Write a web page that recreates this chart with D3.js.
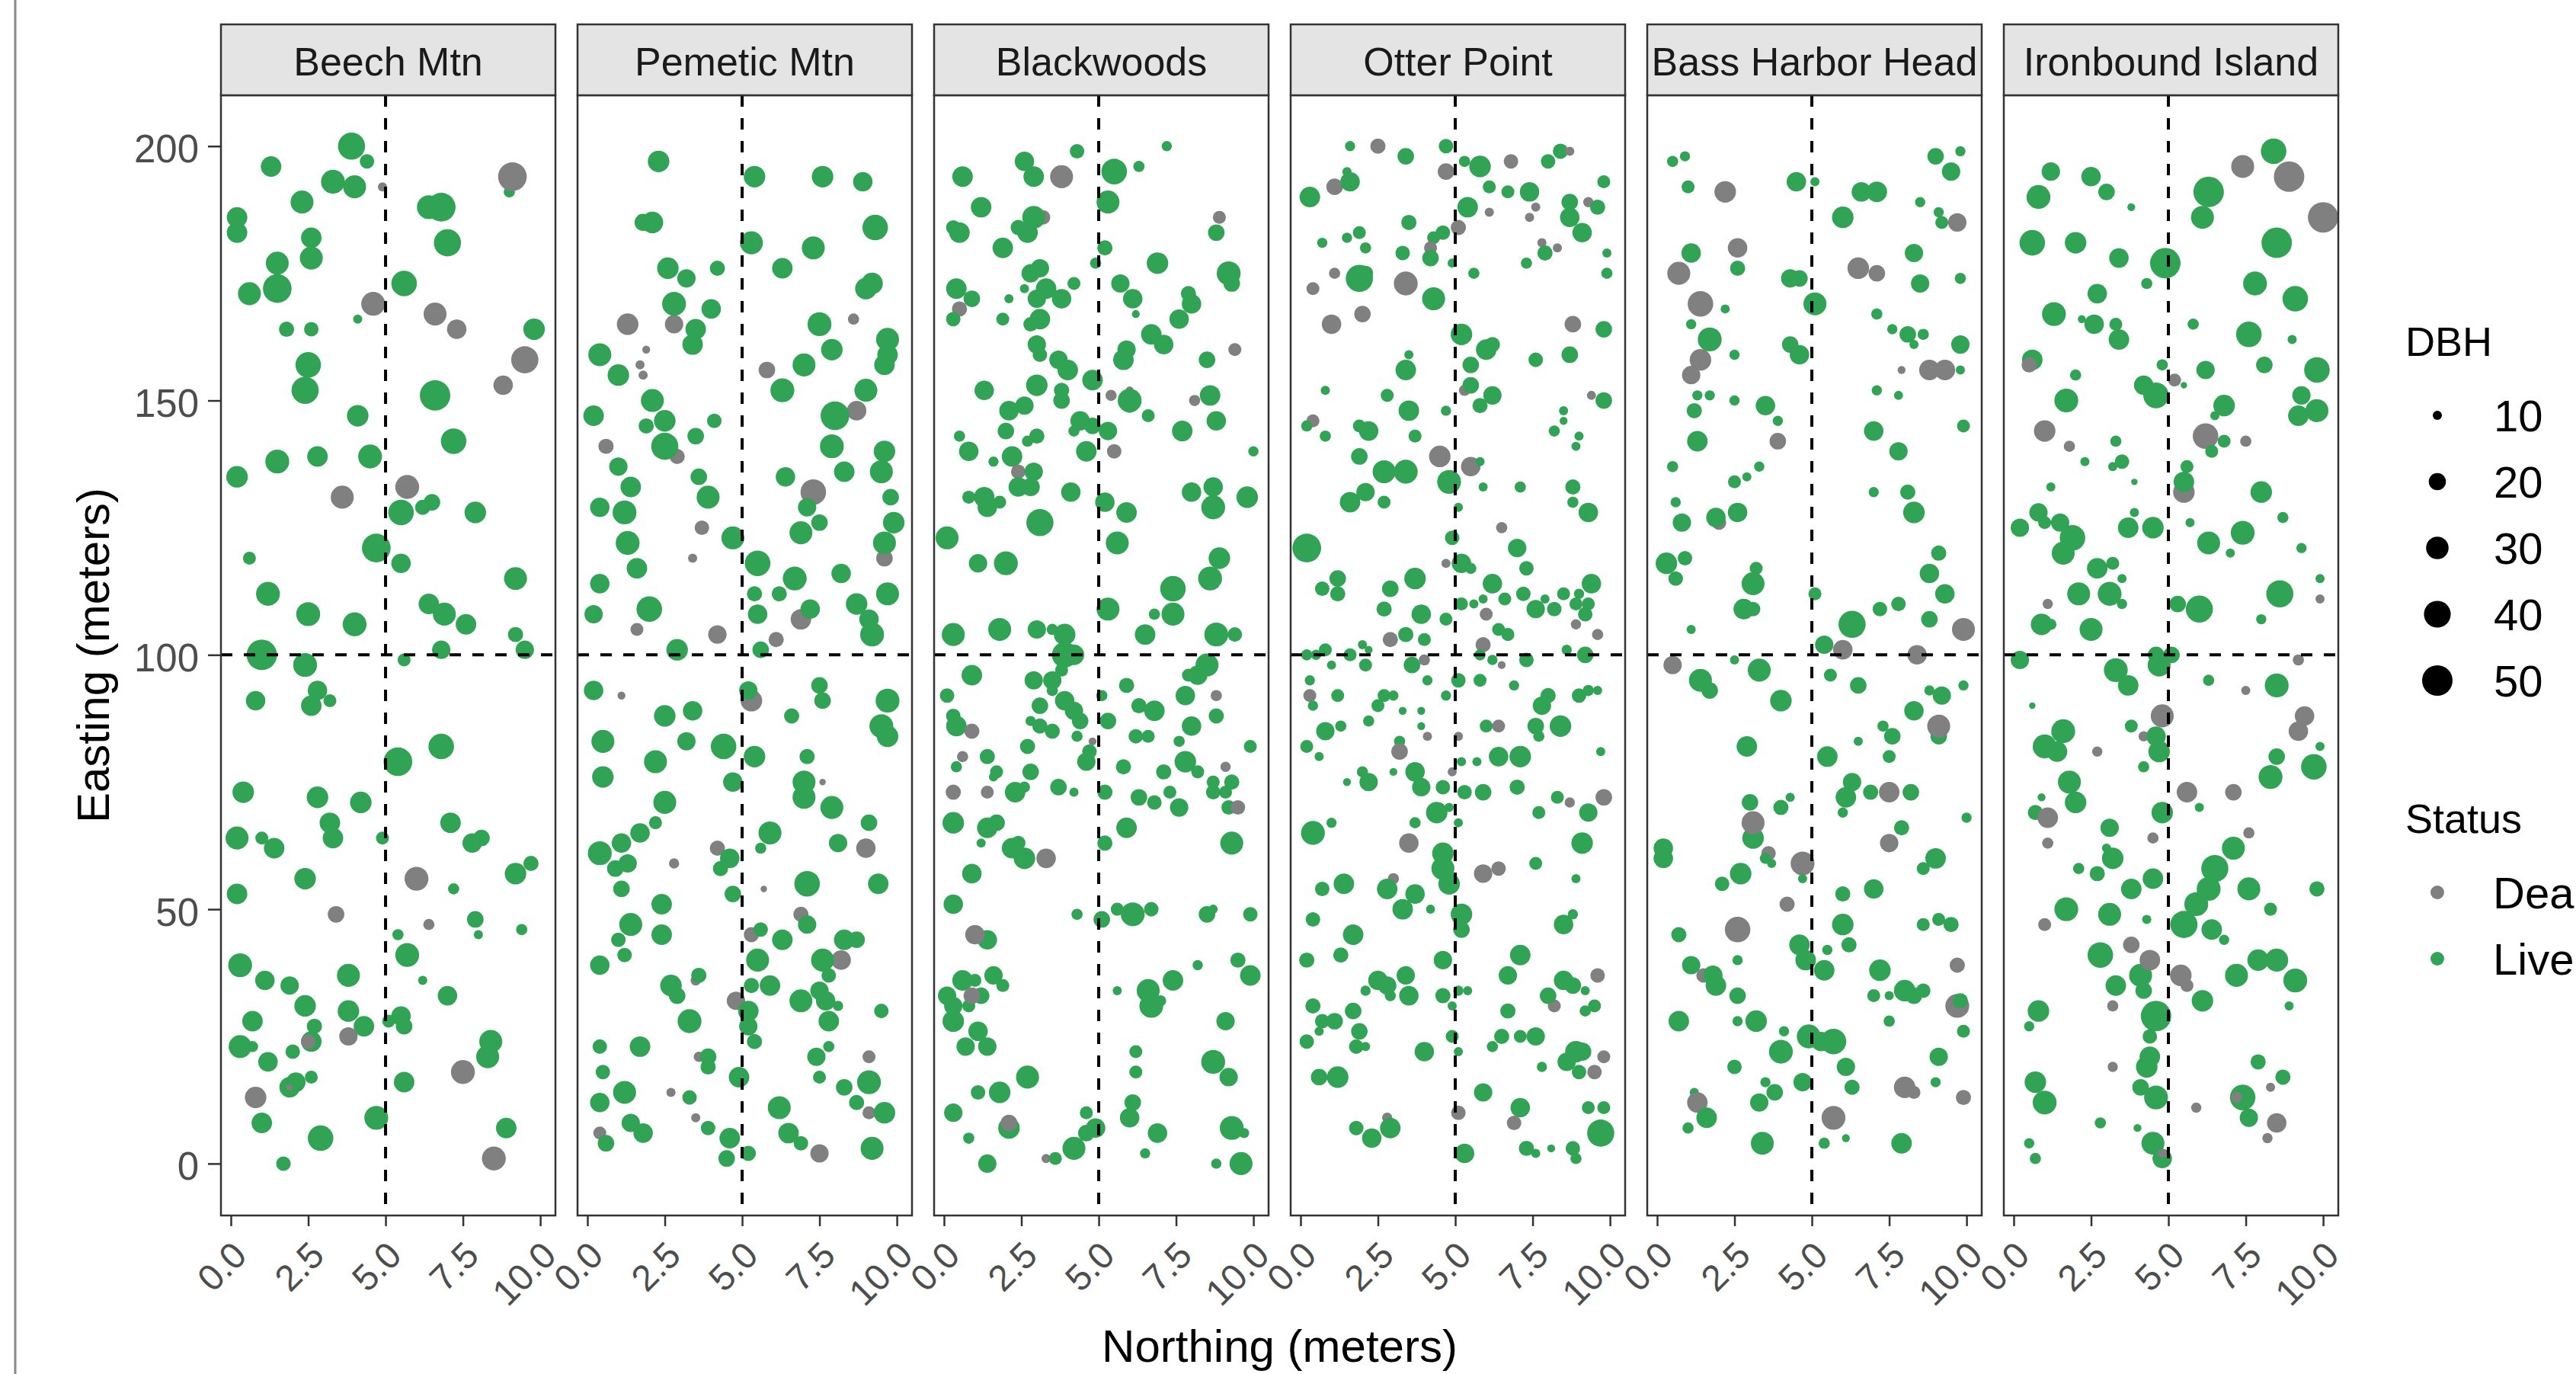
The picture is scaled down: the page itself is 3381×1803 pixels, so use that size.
<!DOCTYPE html>
<html><head><meta charset="utf-8">
<script src="https://cdn.jsdelivr.net/npm/d3@7"></script>
<style>html,body{margin:0;padding:0;background:#fff;} svg{display:block;}</style>
</head><body>
<svg id="chart" width="3381" height="1803"></svg>
<script>
// ---------------- DATA ----------------
const sites = ["Beech Mtn","Pemetic Mtn","Blackwoods","Otter Point","Bass Harbor Head","Ironbound Island"];
const xTicks = [0, 2.5, 5, 7.5, 10];
const xTickLabels = ["0.0","2.5","5.0","7.5","10.0"];
const yTicks = [0, 50, 100, 150, 200];
const dbhBreaks = [10, 20, 30, 40, 50];
const statusCodes = ["D","L"];
const statusLabels = ["Dead","Live"];
const refNorthing = 5, refEasting = 100;
// [northing, easting, DBH, status]
const beechMtn = [[3.9,200,41,"L"],[4.4,197,16,"L"],[1.3,196,26,"L"],[3.3,193,33,"L"],[4.0,192,31,"L"],[4.9,192,10,"D"],[9.0,191,12,"L"],[9.1,194,45,"D"],[2.3,189,31,"L"],[6.4,188,33,"L"],[6.8,188,45,"L"],[0.2,186,26,"L"],[0.2,183,26,"L"],[2.6,182,26,"L"],[2.6,178,31,"L"],[7.0,181,41,"L"],[1.5,177,31,"L"],[0.6,171,31,"L"],[1.5,172,45,"L"],[5.6,173,37,"L"],[4.6,169,33,"D"],[4.1,166,10,"L"],[1.8,164,17,"L"],[2.6,164,16,"L"],[6.6,167,31,"D"],[7.3,164,24,"D"],[9.8,164,28,"L"],[9.5,158,41,"D"],[2.5,157,37,"L"],[2.4,152,41,"L"],[6.6,151,50,"L"],[8.8,153,24,"D"],[4.1,147,28,"L"],[7.2,142,37,"L"],[1.5,138,33,"L"],[2.8,139,26,"L"],[4.5,139,33,"L"],[0.2,135,28,"L"],[3.6,131,31,"D"],[5.7,133,33,"D"],[5.5,128,37,"L"],[6.2,129,17,"L"],[6.5,130,19,"L"],[7.9,128,28,"L"],[4.7,121,45,"L"],[0.6,119,14,"L"],[5.5,118,24,"L"],[9.2,115,31,"L"],[1.2,112,33,"L"],[6.4,110,26,"L"],[6.9,108,31,"L"],[7.6,106,26,"L"],[2.5,108,33,"L"],[4.0,106,33,"L"],[9.2,104,17,"L"],[9.5,101,22,"L"],[1.0,100,50,"L"],[2.4,98,33,"L"],[6.8,101,22,"L"],[5.6,99,14,"L"],[2.8,93,24,"L"],[3.2,91,14,"L"],[2.6,90,26,"L"],[0.8,91,24,"L"],[6.8,82,37,"L"],[5.4,79,45,"L"],[0.4,73,28,"L"],[2.8,72,28,"L"],[4.2,71,28,"L"],[3.2,67,26,"L"],[3.3,64,26,"L"],[0.2,64,31,"L"],[1.0,64,14,"L"],[1.4,62,26,"L"],[4.9,64,14,"L"],[7.1,67,26,"L"],[7.8,63,24,"L"],[8.1,64,19,"L"],[9.2,57,28,"L"],[9.7,59,17,"L"],[2.4,56,28,"L"],[6.0,56,33,"D"],[0.2,53,26,"L"],[7.2,54,12,"L"],[3.4,49,19,"D"],[6.4,47,12,"D"],[7.9,48,19,"L"],[8.0,45,10,"L"],[5.4,45,12,"L"],[9.4,46,12,"L"],[5.7,41,33,"L"],[0.3,39,33,"L"],[1.1,36,24,"L"],[1.9,35,22,"L"],[3.8,37,31,"L"],[6.2,36,10,"L"],[7.0,33,24,"L"],[2.4,31,28,"L"],[0.7,28,26,"L"],[2.7,27,17,"L"],[3.8,30,28,"L"],[4.3,27,26,"L"],[5.5,29,24,"L"],[5.6,27,19,"L"],[5.1,28,14,"L"],[8.4,24,31,"L"],[8.3,21,31,"L"],[2.6,24,26,"L"],[2.5,24,16,"D"],[3.8,25,22,"D"],[0.3,23,31,"L"],[0.7,23,12,"L"],[2.0,22,16,"L"],[1.2,20,24,"L"],[7.5,18,33,"D"],[5.6,16,26,"L"],[2.1,16,24,"L"],[1.9,15,26,"L"],[2.6,17,14,"L"],[1.9,15,8,"D"],[0.8,13,28,"D"],[1.0,8,26,"L"],[4.7,9,33,"L"],[2.9,5,37,"L"],[8.9,7,26,"L"],[8.5,1,33,"D"],[1.7,0,16,"L"]];
const pemeticMtn = [[2.3,197,28,"L"],[5.4,194,28,"L"],[7.6,194,28,"L"],[8.9,193,24,"L"],[1.8,185,20,"L"],[2.1,185,28,"L"],[9.3,184,37,"L"],[5.3,181,31,"L"],[7.3,180,31,"L"],[2.6,176,28,"L"],[3.2,174,22,"L"],[4.2,176,17,"L"],[6.3,176,26,"L"],[9.2,173,28,"L"],[9.0,172,28,"L"],[2.8,165,22,"D"],[2.8,169,33,"L"],[4.0,168,24,"L"],[1.3,165,28,"D"],[3.5,164,26,"L"],[3.4,161,26,"L"],[7.5,165,33,"L"],[8.6,166,12,"D"],[0.4,159,31,"L"],[1.9,160,9,"D"],[1.7,157,10,"D"],[1.8,155,10,"D"],[1.0,155,28,"L"],[5.8,156,19,"D"],[7.0,157,31,"L"],[7.9,160,28,"L"],[9.7,162,31,"L"],[9.7,159,26,"L"],[9.6,157,26,"L"],[6.3,152,33,"L"],[9.0,152,31,"L"],[2.1,150,31,"L"],[0.2,147,26,"L"],[2.5,146,28,"L"],[1.9,145,17,"L"],[4.1,146,16,"L"],[8.7,148,24,"D"],[8.0,147,45,"L"],[0.6,141,17,"D"],[3.5,143,19,"L"],[2.9,139,17,"D"],[2.5,141,41,"L"],[7.9,141,33,"L"],[9.6,140,28,"L"],[9.5,136,31,"L"],[1.0,137,22,"L"],[3.6,135,19,"L"],[6.4,135,24,"L"],[8.3,136,26,"L"],[1.4,133,26,"L"],[3.9,131,31,"L"],[7.3,132,37,"D"],[0.4,129,24,"L"],[1.2,128,33,"L"],[7.1,129,22,"L"],[9.8,131,19,"L"],[9.9,126,28,"L"],[3.7,125,16,"D"],[7.5,126,19,"L"],[6.9,124,31,"L"],[1.3,122,33,"L"],[4.7,123,31,"L"],[9.6,119,19,"D"],[9.6,122,31,"L"],[3.4,119,10,"D"],[5.5,118,37,"L"],[1.6,117,26,"L"],[6.7,115,33,"L"],[8.2,116,24,"L"],[0.4,114,24,"L"],[5.4,112,17,"L"],[6.2,112,17,"L"],[9.7,112,31,"L"],[8.7,110,28,"L"],[2.0,109,37,"L"],[0.2,108,22,"L"],[5.5,108,24,"L"],[6.9,107,26,"D"],[7.2,109,24,"L"],[9.1,107,24,"L"],[9.2,104,33,"L"],[1.6,105,14,"D"],[4.2,104,22,"D"],[6.1,103,17,"D"],[2.9,101,28,"L"],[5.6,101,19,"L"],[0.2,93,24,"L"],[1.1,92,9,"D"],[5.3,91,28,"D"],[5.2,93,22,"L"],[7.5,94,19,"L"],[7.6,91,19,"L"],[9.7,91,33,"L"],[2.5,88,28,"L"],[3.4,89,24,"L"],[6.6,88,17,"L"],[9.5,86,33,"L"],[9.7,84,28,"L"],[0.5,83,31,"L"],[3.2,83,22,"L"],[4.4,82,37,"L"],[2.2,79,31,"L"],[5.4,80,28,"L"],[7.1,80,17,"L"],[0.5,76,28,"L"],[4.7,75,24,"L"],[7.0,75,31,"L"],[7.0,72,31,"L"],[7.6,75,8,"D"],[2.5,71,31,"L"],[2.2,67,14,"L"],[7.9,70,31,"L"],[9.1,67,19,"L"],[5.9,65,31,"L"],[5.6,62,12,"L"],[1.7,65,24,"L"],[1.1,63,24,"L"],[0.4,61,33,"L"],[8.1,63,22,"L"],[4.2,62,17,"D"],[9.0,62,24,"D"],[4.6,60,24,"L"],[4.3,58,17,"L"],[1.3,59,22,"L"],[0.9,58,19,"L"],[2.8,59,11,"D"],[1.1,54,19,"L"],[5.7,54,8,"D"],[7.1,55,37,"L"],[9.4,55,26,"L"],[4.7,53,19,"L"],[2.4,51,26,"L"],[6.9,49,17,"D"],[7.1,47,22,"L"],[1.4,47,31,"L"],[2.4,45,26,"L"],[5.3,45,17,"D"],[5.6,46,16,"L"],[6.3,44,26,"L"],[1.0,44,16,"L"],[1.2,41,16,"L"],[8.2,40,24,"D"],[8.3,44,26,"L"],[8.7,44,19,"L"],[5.5,40,31,"L"],[7.6,40,31,"L"],[7.8,37,16,"L"],[0.4,39,24,"L"],[3.5,36,11,"D"],[3.6,37,17,"L"],[5.9,35,26,"L"],[5.3,35,17,"L"],[2.7,35,28,"L"],[2.9,33,19,"L"],[4.8,32,22,"D"],[5.2,30,26,"L"],[5.2,27,22,"L"],[6.9,32,31,"L"],[7.5,34,22,"L"],[7.7,32,24,"L"],[8.1,31,11,"L"],[9.5,30,16,"L"],[3.3,28,33,"L"],[7.8,28,26,"L"],[5.4,24,17,"L"],[0.4,23,16,"L"],[1.7,23,26,"L"],[7.8,23,12,"L"],[3.6,21,11,"D"],[3.9,21,19,"L"],[3.9,19,17,"L"],[7.4,21,22,"L"],[9.1,21,14,"D"],[0.5,18,16,"L"],[7.5,17,14,"L"],[4.9,17,26,"L"],[9.1,16,33,"L"],[1.2,14,31,"L"],[2.7,14,10,"D"],[8.3,15,19,"L"],[0.4,12,24,"L"],[3.3,13,16,"L"],[6.2,11,31,"L"],[8.7,12,17,"L"],[9.1,10,14,"D"],[9.6,10,28,"L"],[1.4,8,22,"L"],[1.8,6,24,"L"],[3.5,9,10,"D"],[3.9,7,16,"L"],[6.5,6,26,"L"],[6.9,4,16,"L"],[0.4,6,14,"D"],[0.6,4,19,"L"],[4.6,5,26,"L"],[4.5,1,19,"L"],[5.2,2,17,"L"],[7.5,2,22,"D"],[9.2,3,31,"L"]];
const blackwoods = [[2.6,197,24,"L"],[4.3,199,16,"L"],[7.2,200,11,"L"],[0.6,194,26,"L"],[2.9,194,26,"L"],[3.8,194,31,"D"],[5.5,195,37,"L"],[6.3,196,12,"L"],[5.3,189,31,"L"],[1.2,188,26,"L"],[3.2,186,16,"D"],[2.9,186,31,"L"],[2.7,183,26,"L"],[2.4,184,17,"L"],[8.9,186,14,"D"],[8.8,183,19,"L"],[0.3,184,16,"L"],[0.5,183,26,"L"],[1.9,180,26,"L"],[5.2,180,17,"L"],[4.9,177,12,"L"],[6.9,177,28,"L"],[2.8,175,22,"L"],[3.1,176,22,"L"],[9.2,175,33,"L"],[9.3,173,19,"L"],[0.4,172,26,"L"],[0.5,168,17,"D"],[0.9,170,19,"L"],[4.2,173,14,"L"],[2.6,172,10,"L"],[2.1,170,10,"L"],[3.3,172,26,"L"],[3.0,170,22,"L"],[3.8,170,24,"L"],[5.7,173,22,"L"],[6.1,170,24,"L"],[7.9,171,17,"L"],[8.0,169,24,"L"],[1.9,166,14,"L"],[0.3,166,16,"L"],[3.1,166,26,"L"],[2.8,165,16,"L"],[6.2,167,9,"L"],[7.6,166,24,"L"],[6.7,163,26,"L"],[7.1,161,24,"L"],[3.0,161,22,"L"],[3.1,159,16,"L"],[5.9,160,22,"L"],[5.8,158,26,"L"],[9.4,160,14,"D"],[8.5,158,19,"L"],[3.7,158,22,"L"],[4.0,156,26,"L"],[4.8,154,26,"L"],[3.0,153,28,"L"],[1.3,152,24,"L"],[3.8,152,17,"L"],[3.8,150,19,"L"],[5.4,151,12,"D"],[6.0,152,9,"D"],[6.0,149,16,"D"],[6.0,150,33,"L"],[8.1,150,12,"D"],[8.6,151,26,"L"],[8.8,146,24,"L"],[2.1,148,24,"L"],[2.6,149,22,"L"],[6.6,147,14,"L"],[4.4,146,24,"L"],[4.8,145,19,"L"],[4.2,144,12,"L"],[5.3,144,22,"L"],[2.0,144,19,"L"],[3.0,143,17,"L"],[2.7,142,12,"L"],[7.7,144,26,"L"],[0.5,143,12,"L"],[0.8,140,24,"L"],[4.6,140,26,"L"],[5.5,140,16,"D"],[10.0,140,11,"L"],[2.2,139,26,"L"],[1.6,138,11,"L"],[2.4,136,16,"D"],[2.9,136,22,"L"],[2.8,133,22,"L"],[2.4,133,24,"L"],[0.8,131,14,"L"],[1.3,131,26,"L"],[1.4,129,24,"L"],[1.8,130,14,"L"],[4.1,132,24,"L"],[5.2,130,24,"L"],[5.9,128,26,"L"],[8.0,132,24,"L"],[8.7,133,24,"L"],[8.7,129,33,"L"],[9.8,131,28,"L"],[3.1,126,41,"L"],[0.1,123,31,"L"],[5.6,122,31,"L"],[8.9,119,28,"L"],[8.6,115,33,"L"],[1.1,118,22,"L"],[2.0,118,33,"L"],[7.4,113,37,"L"],[7.4,108,31,"L"],[6.8,108,12,"L"],[5.3,109,31,"L"],[1.8,105,31,"L"],[0.3,104,31,"L"],[3.0,105,22,"L"],[3.5,105,12,"L"],[3.9,104,28,"L"],[3.9,100,37,"L"],[4.2,100,26,"L"],[6.5,104,26,"L"],[8.8,104,33,"L"],[9.4,104,16,"L"],[8.5,98,31,"L"],[8.2,96,24,"L"],[7.9,96,14,"L"],[0.9,96,26,"L"],[3.8,97,14,"L"],[2.9,95,22,"L"],[3.5,95,22,"L"],[3.5,93,12,"L"],[5.1,92,12,"L"],[5.9,94,17,"L"],[7.8,92,24,"L"],[8.8,92,12,"D"],[0.1,92,16,"L"],[3.9,91,24,"L"],[4.2,89,22,"L"],[4.4,87,19,"L"],[3.1,90,19,"L"],[6.3,90,17,"L"],[6.8,89,26,"L"],[8.8,88,17,"L"],[0.3,88,16,"L"],[0.4,86,26,"L"],[0.9,85,17,"D"],[2.8,87,11,"L"],[3.1,86,17,"L"],[3.5,85,17,"L"],[5.3,87,19,"L"],[8.0,86,24,"L"],[6.2,84,16,"L"],[6.6,84,14,"L"],[4.3,84,12,"L"],[2.7,82,17,"L"],[4.7,81,16,"L"],[4.6,79,22,"L"],[4.8,83,9,"D"],[7.6,83,12,"L"],[9.9,82,14,"L"],[0.6,80,12,"D"],[1.4,80,17,"L"],[0.4,78,12,"L"],[7.8,79,28,"L"],[8.2,77,14,"L"],[5.8,78,17,"L"],[7.1,77,17,"L"],[9.1,78,11,"D"],[1.7,77,14,"L"],[1.6,76,10,"L"],[2.8,77,19,"L"],[0.3,73,17,"D"],[1.4,73,14,"D"],[2.3,73,26,"L"],[2.6,74,12,"L"],[3.7,74,19,"L"],[4.2,73,10,"L"],[5.2,73,17,"L"],[7.3,73,14,"L"],[8.7,75,14,"L"],[9.3,75,17,"L"],[8.7,73,16,"L"],[9.1,73,14,"L"],[9.2,70,16,"L"],[6.3,72,19,"L"],[6.8,71,16,"L"],[7.6,70,22,"L"],[9.5,70,16,"D"],[0.3,67,28,"L"],[1.4,66,26,"L"],[1.7,67,19,"L"],[1.2,63,10,"L"],[5.9,66,26,"L"],[2.2,62,26,"L"],[2.4,63,16,"L"],[2.6,60,28,"L"],[5.2,63,17,"L"],[9.3,63,31,"L"],[3.3,60,24,"D"],[0.9,57,24,"L"],[0.3,51,24,"L"],[4.3,49,12,"L"],[5.1,48,19,"L"],[5.6,50,14,"L"],[6.1,49,33,"L"],[6.7,50,16,"L"],[8.5,49,19,"L"],[8.7,50,10,"L"],[9.9,49,16,"L"],[1.4,44,24,"L"],[1.0,45,24,"D"],[8.2,39,11,"L"],[9.5,40,17,"L"],[9.9,37,26,"L"],[0.6,36,26,"L"],[1.0,36,14,"L"],[1.6,37,22,"L"],[1.9,35,14,"L"],[0.1,33,22,"L"],[1.2,33,19,"L"],[0.3,31,22,"L"],[0.8,31,14,"L"],[0.9,33,19,"D"],[0.3,28,28,"L"],[5.6,34,10,"L"],[6.6,34,31,"L"],[6.7,31,33,"L"],[7.0,32,12,"L"],[7.4,36,26,"L"],[9.1,28,22,"L"],[1.1,26,24,"L"],[1.4,23,22,"L"],[0.7,23,22,"L"],[6.2,22,14,"L"],[6.2,18,14,"L"],[8.7,20,33,"L"],[9.2,17,22,"L"],[2.7,17,31,"L"],[1.1,14,16,"L"],[1.8,14,28,"L"],[6.1,12,19,"L"],[6.0,9,24,"L"],[0.3,10,22,"L"],[4.6,10,14,"L"],[2.1,7,28,"L"],[2.1,8,19,"D"],[4.9,7,24,"L"],[4.6,6,19,"L"],[4.2,3,31,"L"],[6.9,6,24,"L"],[9.3,7,33,"L"],[9.7,6,11,"L"],[0.8,5,12,"L"],[1.4,0,22,"L"],[3.3,1,10,"D"],[3.6,1,14,"L"],[6.5,2,11,"L"],[8.8,0,11,"L"],[9.6,0,31,"L"]];
const otterPoint = [[1.6,200,11,"L"],[2.5,200,17,"D"],[3.4,198,19,"L"],[4.7,200,16,"L"],[4.7,195,19,"D"],[5.3,197,12,"L"],[5.8,196,28,"L"],[6.8,197,16,"D"],[8.0,197,16,"L"],[8.4,199,17,"L"],[8.7,199,10,"D"],[1.5,195,10,"L"],[1.1,192,19,"D"],[1.6,193,24,"L"],[0.3,190,26,"L"],[6.1,192,14,"L"],[6.7,191,14,"L"],[7.4,191,24,"L"],[9.8,193,14,"L"],[5.4,188,26,"L"],[8.7,189,19,"L"],[8.7,186,24,"L"],[9.3,189,11,"D"],[9.6,188,17,"L"],[6.1,187,10,"D"],[7.6,188,10,"D"],[7.4,186,10,"D"],[3.5,185,17,"L"],[1.9,183,14,"L"],[1.5,182,11,"L"],[0.7,181,11,"L"],[2.1,180,12,"L"],[4.6,183,16,"L"],[5.1,184,17,"D"],[4.3,182,14,"L"],[4.2,180,14,"D"],[4.2,178,19,"L"],[3.3,179,16,"L"],[4.9,177,10,"L"],[9.1,183,24,"L"],[7.8,181,10,"D"],[7.9,179,17,"L"],[8.3,180,10,"D"],[9.9,179,10,"L"],[7.3,177,12,"L"],[1.1,175,12,"D"],[5.6,175,12,"L"],[9.9,175,12,"L"],[1.9,174,41,"L"],[2.1,175,17,"L"],[3.4,173,33,"D"],[0.4,172,14,"D"],[4.3,170,31,"L"],[2.0,167,19,"D"],[1.0,165,24,"D"],[8.8,165,19,"D"],[9.8,164,19,"L"],[5.2,163,28,"L"],[6.0,160,26,"L"],[6.2,161,17,"L"],[7.6,158,16,"L"],[8.7,159,19,"L"],[3.4,156,26,"L"],[3.5,159,10,"L"],[5.5,157,19,"L"],[5.3,152,12,"D"],[5.5,153,19,"L"],[0.8,152,10,"L"],[2.8,151,14,"L"],[5.8,149,17,"L"],[6.2,151,22,"L"],[9.4,151,10,"D"],[9.8,150,19,"L"],[4.7,148,11,"L"],[3.5,148,26,"L"],[3.7,143,14,"L"],[8.5,148,10,"L"],[8.5,146,9,"L"],[0.4,146,14,"D"],[0.2,145,12,"L"],[0.8,143,12,"L"],[1.9,145,14,"L"],[2.2,144,24,"L"],[8.2,144,12,"L"],[9.0,143,10,"L"],[8.9,141,10,"L"],[1.9,139,19,"L"],[4.5,139,28,"D"],[5.5,137,24,"D"],[5.8,138,10,"L"],[2.7,136,31,"L"],[3.4,136,33,"L"],[4.8,134,33,"L"],[2.1,132,22,"L"],[2.7,130,14,"L"],[1.6,130,26,"L"],[5.9,133,10,"L"],[7.1,133,12,"L"],[8.8,133,17,"L"],[8.8,130,12,"L"],[9.3,128,24,"L"],[5.1,129,10,"L"],[0.2,121,45,"L"],[6.5,125,12,"D"],[4.9,123,16,"L"],[7.0,121,22,"L"],[4.7,118,10,"D"],[5.2,118,24,"L"],[5.5,117,12,"L"],[7.3,117,16,"L"],[3.7,115,28,"L"],[1.2,115,19,"L"],[0.7,113,16,"L"],[1.2,112,17,"L"],[2.9,113,19,"L"],[6.2,114,24,"L"],[9.4,114,24,"L"],[9.0,112,11,"L"],[7.2,112,16,"L"],[6.6,111,14,"L"],[5.2,110,14,"L"],[5.6,110,10,"L"],[5.9,111,10,"L"],[7.9,111,10,"L"],[8.5,112,14,"L"],[8.9,110,14,"L"],[9.3,110,14,"L"],[8.2,109,16,"L"],[7.6,109,22,"L"],[9.2,108,16,"L"],[2.7,109,17,"L"],[3.9,108,24,"L"],[4.7,107,14,"L"],[6.0,108,14,"D"],[8.9,106,11,"D"],[6.4,105,14,"L"],[6.7,104,14,"L"],[2.9,103,17,"D"],[3.4,104,17,"L"],[4.0,103,14,"L"],[5.9,102,17,"D"],[9.6,104,12,"D"],[2.0,102,10,"L"],[0.2,100,12,"L"],[0.5,100,11,"L"],[0.8,101,14,"L"],[1.0,98,10,"L"],[1.6,100,14,"L"],[2.1,98,14,"L"],[2.2,101,9,"L"],[3.6,98,19,"L"],[4.0,99,12,"D"],[5.8,100,12,"L"],[6.2,99,11,"L"],[6.5,98,9,"D"],[7.3,99,16,"L"],[8.6,101,11,"L"],[9.2,100,19,"L"],[0.3,95,11,"L"],[0.3,92,14,"D"],[0.4,90,11,"L"],[1.2,92,14,"L"],[4.1,95,11,"L"],[5.1,95,16,"L"],[5.8,95,14,"L"],[6.9,94,11,"L"],[2.7,92,14,"L"],[3.0,92,11,"L"],[4.7,92,11,"L"],[9.0,92,16,"L"],[9.3,93,12,"L"],[9.6,93,10,"L"],[7.8,90,22,"L"],[8.0,92,17,"L"],[2.5,90,14,"L"],[2.2,87,12,"L"],[3.3,89,9,"L"],[3.9,89,9,"L"],[1.3,86,12,"L"],[0.8,85,22,"L"],[3.9,86,9,"L"],[4.1,84,10,"D"],[6.0,86,14,"L"],[6.4,86,14,"D"],[7.6,86,19,"L"],[8.4,86,28,"L"],[7.7,84,12,"L"],[5.1,84,10,"D"],[0.2,82,14,"L"],[0.6,80,10,"L"],[3.2,83,12,"L"],[3.2,81,19,"D"],[6.4,80,24,"L"],[7.1,80,28,"L"],[9.7,81,10,"L"],[5.2,79,10,"L"],[5.7,79,10,"L"],[4.9,77,10,"D"],[3.7,77,24,"L"],[2.0,77,12,"L"],[3.0,77,9,"L"],[1.5,75,9,"L"],[2.2,75,22,"L"],[3.9,74,22,"L"],[4.6,74,16,"L"],[7.0,74,17,"L"],[5.3,73,16,"L"],[5.9,73,19,"L"],[8.3,72,14,"L"],[8.7,71,11,"D"],[9.8,72,19,"D"],[4.4,69,28,"L"],[4.8,70,10,"L"],[7.7,69,14,"L"],[9.3,69,22,"L"],[1.0,67,11,"L"],[3.7,67,12,"L"],[5.1,67,10,"L"],[0.4,65,33,"L"],[9.1,63,28,"L"],[3.5,63,24,"D"],[4.6,61,28,"L"],[4.6,58,31,"L"],[4.8,55,28,"L"],[5.9,57,22,"D"],[6.4,58,16,"D"],[7.6,59,14,"L"],[3.0,56,12,"D"],[2.8,54,26,"L"],[3.3,50,26,"L"],[3.7,53,24,"L"],[1.4,55,26,"L"],[0.7,54,16,"L"],[8.9,56,10,"L"],[4.2,50,10,"L"],[5.2,49,28,"L"],[5.2,46,19,"L"],[0.4,48,16,"L"],[1.7,45,26,"L"],[8.5,47,24,"L"],[8.8,49,11,"L"],[1.3,41,17,"L"],[0.2,40,17,"L"],[4.6,40,22,"L"],[7.1,41,26,"L"],[9.6,37,16,"D"],[6.7,37,22,"L"],[3.4,37,22,"L"],[3.5,33,24,"L"],[2.5,36,24,"L"],[2.8,35,22,"L"],[2.9,33,12,"L"],[8.5,36,24,"L"],[8.8,35,19,"L"],[9.2,34,10,"L"],[2.1,34,11,"L"],[4.6,33,17,"L"],[5.1,34,11,"L"],[5.4,34,10,"L"],[4.9,31,10,"L"],[8.2,31,14,"D"],[8.0,33,19,"L"],[0.4,31,17,"L"],[1.7,30,19,"L"],[6.7,30,17,"L"],[9.5,31,14,"L"],[9.2,30,12,"L"],[0.7,28,16,"L"],[1.1,28,19,"L"],[0.6,26,10,"L"],[1.9,26,19,"L"],[4.9,25,14,"L"],[6.5,25,17,"L"],[7.1,25,14,"L"],[7.6,25,22,"L"],[0.2,24,16,"L"],[1.8,23,16,"L"],[2.1,23,10,"L"],[4.0,22,24,"L"],[5.1,22,10,"L"],[6.2,23,12,"L"],[8.9,22,28,"L"],[9.1,22,22,"L"],[8.6,20,22,"L"],[9.0,18,16,"L"],[9.8,21,14,"D"],[9.5,18,16,"D"],[7.8,19,11,"L"],[0.6,17,19,"L"],[1.2,17,28,"L"],[5.9,14,22,"L"],[9.3,11,14,"L"],[9.8,11,14,"L"],[7.1,11,24,"L"],[2.8,9,11,"D"],[2.9,7,26,"L"],[2.3,5,24,"L"],[5.1,10,16,"D"],[6.9,8,16,"D"],[1.8,7,16,"L"],[9.7,6,41,"L"],[5.3,2,24,"L"],[7.3,3,17,"L"],[7.6,2,10,"L"],[8.1,3,9,"L"],[8.8,3,16,"L"],[8.9,1,12,"L"]];
const bassHarborHead = [[0.5,197,12,"L"],[0.9,198,11,"L"],[1.0,192,14,"L"],[2.2,191,28,"D"],[4.5,193,24,"L"],[5.1,193,10,"L"],[6.6,191,24,"L"],[7.1,191,26,"L"],[9.0,198,19,"L"],[9.8,199,11,"L"],[9.5,195,22,"L"],[8.5,189,11,"L"],[6.0,186,28,"L"],[9.1,187,11,"L"],[9.2,185,14,"L"],[9.7,185,22,"D"],[2.6,180,24,"D"],[2.6,176,17,"L"],[0.7,175,31,"D"],[1.1,179,24,"L"],[8.3,179,22,"L"],[4.3,174,22,"L"],[4.6,174,19,"L"],[6.5,176,28,"D"],[7.1,175,19,"D"],[9.8,174,12,"L"],[8.5,173,22,"L"],[1.4,169,37,"D"],[2.2,168,10,"L"],[5.1,169,31,"L"],[7.1,167,12,"L"],[1.1,165,11,"L"],[1.7,162,33,"L"],[7.6,164,11,"L"],[8.1,163,19,"L"],[8.3,161,10,"L"],[8.6,163,12,"L"],[2.5,159,11,"L"],[4.3,161,19,"L"],[4.6,159,24,"L"],[9.8,161,22,"L"],[1.4,158,28,"D"],[1.1,155,22,"D"],[7.9,156,9,"D"],[8.8,156,26,"D"],[9.3,156,26,"D"],[9.8,156,10,"L"],[1.3,151,11,"L"],[1.7,151,11,"L"],[2.5,150,11,"L"],[7.1,152,11,"L"],[7.8,151,10,"L"],[3.5,149,24,"L"],[1.2,148,17,"L"],[3.9,146,11,"L"],[9.9,145,14,"L"],[7.0,144,24,"L"],[3.9,142,19,"D"],[1.3,142,26,"L"],[7.8,140,22,"L"],[0.5,137,12,"L"],[3.3,137,11,"L"],[2.5,134,14,"L"],[2.9,135,10,"L"],[7.0,132,11,"L"],[8.1,132,17,"L"],[8.3,128,28,"L"],[0.6,130,11,"L"],[0.8,126,22,"L"],[2.0,126,16,"D"],[1.9,127,24,"L"],[2.6,128,24,"L"],[0.3,118,28,"L"],[0.9,119,16,"L"],[0.6,115,16,"L"],[3.2,117,14,"L"],[3.1,114,31,"L"],[2.8,109,26,"L"],[3.1,109,16,"L"],[9.1,120,17,"L"],[8.8,116,24,"L"],[9.3,112,24,"L"],[5.1,112,14,"L"],[7.2,109,16,"L"],[7.8,110,16,"L"],[6.3,106,41,"L"],[8.8,107,19,"L"],[9.9,105,31,"D"],[1.1,105,10,"L"],[5.4,102,22,"L"],[6.0,101,24,"D"],[8.4,100,24,"D"],[2.5,99,10,"L"],[0.5,98,22,"D"],[1.4,95,31,"L"],[1.7,93,19,"L"],[3.3,97,31,"L"],[5.6,96,14,"L"],[6.5,94,19,"L"],[9.9,94,11,"L"],[8.8,93,11,"L"],[9.2,92,22,"L"],[4.0,91,28,"L"],[8.3,89,24,"L"],[7.3,86,12,"L"],[7.6,84,19,"L"],[7.5,80,14,"L"],[9.1,84,19,"L"],[9.1,86,31,"D"],[6.5,83,10,"L"],[2.9,82,26,"L"],[5.5,80,26,"L"],[6.3,75,22,"L"],[6.9,73,17,"L"],[7.5,73,26,"D"],[8.2,73,19,"L"],[3.0,71,19,"L"],[4.3,72,10,"L"],[4.0,70,17,"L"],[6.1,72,26,"L"],[6.0,69,11,"L"],[10.0,68,11,"L"],[3.1,64,28,"L"],[3.1,67,31,"D"],[7.9,66,17,"L"],[0.2,62,24,"L"],[0.2,60,24,"L"],[3.6,61,16,"D"],[3.5,60,12,"L"],[3.7,59,10,"L"],[4.7,59,33,"D"],[7.5,63,22,"D"],[9.0,60,26,"L"],[8.6,58,14,"L"],[2.7,57,28,"L"],[2.1,55,16,"L"],[4.7,56,10,"L"],[6.0,53,17,"L"],[7.0,54,24,"L"],[4.2,51,17,"D"],[2.6,46,37,"D"],[6.0,47,28,"L"],[0.7,45,17,"L"],[8.6,47,14,"L"],[9.1,48,14,"L"],[9.5,47,17,"L"],[4.6,43,26,"L"],[4.8,40,26,"L"],[5.5,42,11,"L"],[6.2,43,17,"L"],[2.6,40,11,"L"],[1.1,39,22,"L"],[9.7,39,17,"D"],[1.5,37,16,"D"],[1.8,37,24,"L"],[1.9,35,26,"L"],[5.4,38,26,"L"],[7.2,38,28,"L"],[2.6,33,19,"L"],[7.0,33,14,"L"],[7.5,33,10,"L"],[8.0,34,28,"L"],[8.3,33,19,"L"],[8.6,34,16,"L"],[9.7,31,33,"D"],[9.8,32,17,"L"],[0.7,28,26,"L"],[2.6,28,11,"L"],[3.2,28,28,"L"],[7.5,28,12,"L"],[4.1,26,11,"L"],[9.9,26,14,"L"],[4.9,25,33,"L"],[5.3,24,24,"L"],[5.7,24,37,"L"],[4.0,22,33,"L"],[9.1,21,22,"L"],[2.5,19,16,"L"],[6.1,19,22,"L"],[4.7,16,22,"L"],[9.0,16,11,"L"],[3.5,16,11,"L"],[3.8,14,19,"L"],[6.3,15,17,"L"],[8.0,15,28,"D"],[8.3,14,14,"D"],[1.2,14,10,"L"],[1.3,12,26,"D"],[3.3,12,22,"L"],[9.9,13,17,"D"],[1.6,9,26,"L"],[5.7,9,33,"D"],[1.0,7,12,"L"],[5.4,4,12,"L"],[6.1,5,9,"L"],[3.4,4,31,"L"],[7.9,4,26,"L"]];
const ironboundIsland = [[1.2,195,22,"L"],[2.5,194,24,"L"],[3.0,191,19,"L"],[0.8,190,33,"L"],[3.8,188,9,"L"],[7.4,196,31,"D"],[8.4,199,37,"L"],[8.9,194,50,"D"],[6.3,191,50,"L"],[6.1,186,31,"L"],[10.0,186,50,"D"],[0.6,181,37,"L"],[2.0,181,28,"L"],[8.5,181,50,"L"],[3.4,178,24,"L"],[4.9,177,50,"L"],[4.3,173,12,"L"],[7.8,173,33,"L"],[9.1,170,37,"L"],[2.7,171,24,"L"],[1.3,167,33,"L"],[2.2,166,9,"L"],[2.6,165,24,"L"],[3.3,165,14,"L"],[3.4,162,26,"L"],[5.8,165,12,"L"],[7.6,163,37,"L"],[9.0,162,10,"L"],[0.6,158,26,"L"],[0.5,157,17,"D"],[2.0,155,12,"L"],[4.8,157,12,"L"],[6.2,156,22,"L"],[8.1,157,19,"L"],[9.8,156,37,"L"],[5.2,154,14,"D"],[5.5,153,8,"L"],[4.2,153,24,"L"],[4.6,151,37,"L"],[9.3,151,22,"L"],[9.8,148,31,"L"],[9.2,147,26,"L"],[1.7,150,33,"L"],[6.8,149,28,"L"],[6.5,147,10,"L"],[1.0,144,28,"D"],[6.2,143,37,"D"],[6.4,140,14,"L"],[6.8,142,14,"L"],[7.5,142,12,"D"],[1.8,141,12,"D"],[3.3,142,12,"L"],[2.3,138,10,"L"],[3.5,138,16,"L"],[3.2,137,10,"L"],[5.6,137,14,"L"],[3.9,134,8,"L"],[1.2,133,10,"L"],[5.5,132,28,"D"],[5.5,134,26,"L"],[8.0,132,28,"L"],[0.8,128,22,"L"],[1.0,126,14,"L"],[0.2,125,22,"L"],[1.5,126,22,"L"],[3.9,128,10,"L"],[3.7,125,26,"L"],[4.5,125,28,"L"],[5.7,126,10,"L"],[8.7,127,12,"L"],[1.9,123,37,"L"],[1.6,120,31,"L"],[7.4,124,33,"L"],[7.0,120,10,"L"],[6.3,122,31,"L"],[9.3,121,11,"L"],[2.7,117,26,"L"],[3.2,118,14,"L"],[3.5,115,10,"L"],[9.9,115,10,"L"],[2.1,112,31,"L"],[3.1,112,33,"L"],[8.6,112,41,"L"],[9.9,111,10,"D"],[1.1,110,11,"D"],[3.5,110,11,"L"],[5.3,110,19,"L"],[6.0,109,41,"L"],[8.0,107,11,"L"],[0.9,106,28,"L"],[1.2,106,12,"L"],[2.5,105,31,"L"],[0.2,99,22,"L"],[4.6,100,19,"L"],[5.1,100,19,"L"],[4.7,98,31,"L"],[3.3,97,33,"L"],[3.7,94,26,"L"],[9.2,99,12,"D"],[6.3,95,12,"L"],[7.5,93,10,"D"],[8.5,94,33,"L"],[0.6,90,8,"L"],[4.8,88,31,"D"],[9.4,88,24,"D"],[9.2,85,24,"D"],[3.8,86,14,"L"],[1.6,85,33,"L"],[1.0,82,33,"L"],[1.4,81,26,"L"],[4.2,84,11,"D"],[4.6,84,24,"L"],[4.7,81,28,"L"],[2.7,81,11,"D"],[9.9,82,10,"L"],[8.5,80,19,"L"],[8.3,76,33,"L"],[9.7,78,37,"L"],[4.2,78,12,"L"],[1.8,75,31,"L"],[2.0,71,28,"L"],[0.9,72,9,"L"],[5.6,73,26,"D"],[7.1,73,19,"D"],[6.0,70,10,"L"],[0.7,69,17,"L"],[1.1,68,26,"D"],[4.8,69,28,"L"],[3.1,66,22,"L"],[7.6,65,12,"D"],[4.5,64,12,"D"],[7.1,62,31,"L"],[1.1,63,12,"D"],[3.0,62,10,"L"],[3.2,60,28,"L"],[6.5,58,41,"L"],[6.3,54,33,"L"],[2.1,58,12,"L"],[2.7,57,17,"L"],[4.5,56,26,"L"],[3.8,54,26,"L"],[7.6,54,31,"L"],[9.8,54,17,"L"],[5.9,51,33,"L"],[5.5,47,41,"L"],[1.7,50,33,"L"],[3.1,49,31,"L"],[8.3,50,14,"L"],[4.3,48,10,"L"],[6.4,46,26,"L"],[6.8,44,11,"L"],[1.0,47,14,"D"],[3.8,43,19,"D"],[2.8,41,37,"L"],[4.1,37,31,"L"],[4.2,34,19,"L"],[4.4,40,26,"D"],[7.9,40,28,"L"],[8.5,40,31,"L"],[5.4,37,28,"D"],[5.6,35,14,"D"],[7.2,37,31,"L"],[9.1,36,33,"L"],[3.3,35,26,"L"],[6.1,32,28,"L"],[8.9,31,10,"L"],[0.8,30,28,"L"],[3.2,31,12,"D"],[4.6,29,50,"L"],[0.5,27,11,"L"],[4.4,25,16,"L"],[4.4,21,26,"L"],[4.3,19,28,"L"],[7.9,20,17,"L"],[3.2,19,11,"D"],[8.7,17,17,"L"],[8.3,15,10,"D"],[0.7,16,28,"L"],[1.0,12,33,"L"],[4.1,15,19,"L"],[4.6,13,33,"L"],[7.4,13,37,"L"],[7.2,13,12,"D"],[7.6,9,22,"L"],[5.9,11,11,"D"],[8.5,8,24,"D"],[2.8,8,12,"L"],[4.0,7,9,"L"],[8.2,5,11,"D"],[0.5,4,11,"L"],[4.5,4,31,"L"],[4.8,1,24,"L"],[4.8,2,10,"D"],[0.7,1,12,"L"]];
const siteData = [beechMtn, pemeticMtn, blackwoods, otterPoint, bassHarborHead, ironboundIsland];

// ---------------- LAYOUT ----------------
const W = 3381, H = 1803;
const FONT = '"Liberation Sans", Arial, Helvetica, sans-serif';
const panelX0 = 290, panelStep = 468, panelW = 439, panelTop = 125, panelH = 1470, stripTop = 32;
const svg = d3.select("#chart");
svg.append("rect").attr("width", W).attr("height", H).attr("fill", "#fff");
svg.append("line").attr("x1", 20).attr("x2", 20).attr("y1", 0).attr("y2", H)
  .attr("stroke", "#8a8a8a").attr("stroke-width", 3);

const x = d3.scaleLinear().domain([-0.32, 10.49]).range([0, panelW]);
const y = d3.scaleLinear().domain([-10.2, 210]).range([panelH, 0]);
const r = d3.scaleRadial().domain([10, 50]).range([6, 20]);
const color = d3.scaleOrdinal().domain(statusCodes).range(["#808080", "#31a354"]);

sites.forEach((name, i) => {
  const px = panelX0 + i * panelStep;
  const g = svg.append("g").attr("transform", `translate(${px},${panelTop})`);
  const clipId = "clip" + i;
  g.append("clipPath").attr("id", clipId).append("rect").attr("width", panelW).attr("height", panelH);
  const inner = g.append("g").attr("clip-path", `url(#${clipId})`);
  inner.selectAll("circle").data(siteData[i]).join("circle")
    .attr("cx", d => x(d[0])).attr("cy", d => y(d[1]))
    .attr("r", d => r(d[2])).attr("fill", d => color(d[3]));
  inner.append("line").attr("x1", x(refNorthing)).attr("x2", x(refNorthing)).attr("y1", 0).attr("y2", panelH)
    .attr("stroke", "#000").attr("stroke-width", 4).attr("stroke-dasharray", "15,15");
  inner.append("line").attr("x1", 0).attr("x2", panelW).attr("y1", y(refEasting)).attr("y2", y(refEasting))
    .attr("stroke", "#000").attr("stroke-width", 4).attr("stroke-dasharray", "15,15");
  g.append("rect").attr("width", panelW).attr("height", panelH)
    .attr("fill", "none").attr("stroke", "#333").attr("stroke-width", 2.5);

  // strip
  svg.append("rect").attr("x", px).attr("y", stripTop).attr("width", panelW).attr("height", panelTop - stripTop)
    .attr("fill", "#e4e4e4").attr("stroke", "#333").attr("stroke-width", 2.5);
  svg.append("text").attr("x", px + panelW / 2).attr("y", 99).attr("text-anchor", "middle")
    .style("font-family", FONT).style("font-size", "52px").attr("fill", "#1a1a1a").text(name);

  // x axis
  const xa = g.append("g").attr("transform", `translate(0,${panelH})`)
    .call(d3.axisBottom(x).tickValues(xTicks).tickFormat((d, k) => xTickLabels[k]).tickSize(14).tickSizeOuter(0));
  xa.select(".domain").remove();
  xa.selectAll(".tick line").attr("stroke", "#333").attr("stroke-width", 2.5);
  xa.selectAll(".tick text").attr("x", 23).attr("y", 55).attr("dy", null)
    .attr("text-anchor", "end").attr("transform", "rotate(-45,23,55)")
    .style("font-family", FONT).style("font-size", "48px").attr("fill", "#4d4d4d");

  if (i === 0) {
    const ya = g.append("g").call(d3.axisLeft(y).tickValues(yTicks).tickSize(17).tickPadding(12).tickSizeOuter(0));
    ya.select(".domain").remove();
    ya.selectAll(".tick line").attr("stroke", "#333").attr("stroke-width", 2.5);
    ya.selectAll(".tick text").attr("dy", "0.41em")
      .style("font-family", FONT).style("font-size", "51px").attr("fill", "#4d4d4d");
  }
});

// axis titles
svg.append("text").attr("x", (panelX0 + panelX0 + 5 * panelStep + panelW) / 2).attr("y", 1787)
  .attr("text-anchor", "middle").style("font-family", FONT).style("font-size", "60px").attr("fill", "#000")
  .text("Northing (meters)");
svg.append("text").attr("transform", `translate(143,${panelTop + panelH / 2}) rotate(-90)`)
  .attr("text-anchor", "middle").style("font-family", FONT).style("font-size", "60px").attr("fill", "#000")
  .text("Easting (meters)");

// legend
const lg = svg.append("g");
lg.append("text").attr("x", 3157).attr("y", 467).style("font-family", FONT).style("font-size", "54px").text("DBH");
dbhBreaks.forEach((b, k) => {
  const cy = 545 + k * 87;
  lg.append("circle").attr("cx", 3199).attr("cy", cy).attr("r", r(b)).attr("fill", "#000");
  lg.append("text").attr("x", 3273).attr("y", cy + 21).style("font-family", FONT).style("font-size", "58px").text(b);
});
lg.append("text").attr("x", 3157).attr("y", 1093).style("font-family", FONT).style("font-size", "54px").text("Status");
statusCodes.forEach((s, k) => {
  const cy = 1171 + k * 87;
  lg.append("circle").attr("cx", 3199).attr("cy", cy).attr("r", 9).attr("fill", color(s));
  lg.append("text").attr("x", 3272).attr("y", cy + 21).style("font-family", FONT).style("font-size", "58px").text(statusLabels[k]);
});
</script>
</body></html>
